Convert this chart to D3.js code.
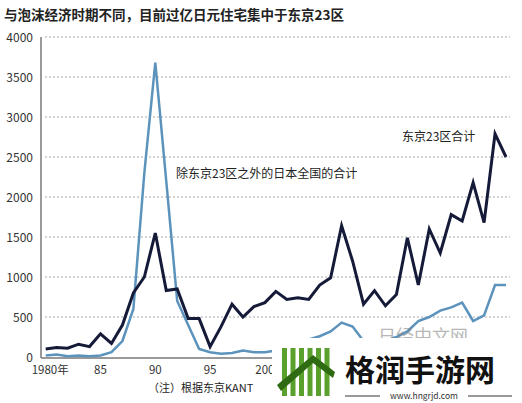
<!DOCTYPE html><html><head><meta charset="utf-8"><script src="https://cdn.jsdelivr.net/npm/d3@7"></script>
<style>body{margin:0;background:#fff}text{font-family:"Noto Sans CJK SC",sans-serif}</style></head><body><svg id="c" width="522" height="403"></svg><script>
const years=d3.range(1980,2023);
const tokyo=[100,120,110,160,130,290,170,400,800,1000,1550,830,850,480,480,130,380,660,500,630,680,820,720,740,720,900,990,1640,1200,660,830,640,780,1490,900,1600,1300,1780,1700,2180,1680,2790,2500];
const others=[20,30,10,20,10,20,60,200,600,2300,3680,2200,700,400,100,60,40,50,80,60,60,80,120,180,220,260,320,430,380,200,150,200,250,320,450,500,580,620,680,450,520,900,900];
const yTicks=[0,500,1000,1500,2000,2500,3000,3500,4000];
const xTicks=[1980,1985,1990,1995,2000];const xLabels=["1980年","85","90","95","200"];
const svg=d3.select("#c");
const x=d3.scaleLinear().domain([1980,2022]).range([45.7,506]);
const y=d3.scaleLinear().domain([0,4000]).range([357,37]);
svg.append("text").attr("x",4).attr("y",20).attr("font-size",13.5).attr("font-weight","bold").attr("fill","#222").text("与泡沫经济时期不同，目前过亿日元住宅集中于东京23区");
svg.append("g").selectAll("line").data(yTicks.slice(1)).join("line").attr("x1",45).attr("x2",510).attr("y1",y).attr("y2",y).attr("stroke","#aaa").attr("stroke-dasharray","2,2");
svg.append("g").selectAll("text").data(yTicks).join("text").attr("x",33).attr("y",d=>y(d)+5).attr("text-anchor","end").attr("font-size",12).attr("fill","#333").text(d=>d);
svg.append("line").attr("x1",41).attr("x2",41).attr("y1",37).attr("y2",358).attr("stroke","#777").attr("stroke-width",1.5);
svg.append("line").attr("x1",41).attr("x2",510).attr("y1",358).attr("y2",358).attr("stroke","#777").attr("stroke-width",1.5);
svg.append("g").selectAll("text").data(xTicks).join("text").attr("x",(d,i)=>i==0?x(d)-14:x(d)).attr("y",374).attr("text-anchor",(d,i)=>i==0?"start":"middle").attr("font-size",11.5).attr("fill","#333").text((d,i)=>xLabels[i]);
const line=d3.line().x((d,i)=>x(years[i])).y(d=>y(d));
svg.append("path").attr("d",line(others)).attr("fill","none").attr("stroke","#5b93bd").attr("stroke-width",2.5);
svg.append("path").attr("d",line(tokyo)).attr("fill","none").attr("stroke","#141a38").attr("stroke-width",3);
svg.append("text").attr("x",176).attr("y",178).attr("font-size",12).attr("fill","#222").text("除东京23区之外的日本全国的合计");
svg.append("text").attr("x",402).attr("y",141).attr("font-size",12).attr("fill","#222").text("东京23区合计");
svg.append("text").attr("x",148).attr("y",392).attr("font-size",11).attr("fill","#222").text("（注）根据东京KANT");
// watermark
svg.append("text").attr("x",378).attr("y",343).attr("font-size",18).attr("fill","#888").attr("opacity",0.6).text("日经中文网");
svg.append("rect").attr("x",272).attr("y",338).attr("width",250).attr("height",65).attr("fill","#fff");
const g=svg.append("g");
[0,1,2,3,4,5].forEach(i=>g.append("rect").attr("x",282+i*8.5).attr("y",348).attr("width",5).attr("height",48).attr("fill","#5aa02c"));
g.append("path").attr("d","M277,385 L313,355 L335,372 L333,378 L313,363 L281,391Z").attr("fill","#2f6b12");
svg.append("text").attr("x",345).attr("y",381).attr("font-size",30).attr("font-weight","bold").attr("fill","#111").text("格润手游网");
svg.append("line").attr("x1",345).attr("x2",380).attr("y1",396).attr("y2",396).attr("stroke","#333");
svg.append("line").attr("x1",468).attr("x2",512).attr("y1",396).attr("y2",396).attr("stroke","#333");
svg.append("text").attr("x",424).attr("y",399).attr("text-anchor","middle").attr("font-size",8.5).attr("fill","#333").text("www.hngrjd.com");
</script></body></html>
